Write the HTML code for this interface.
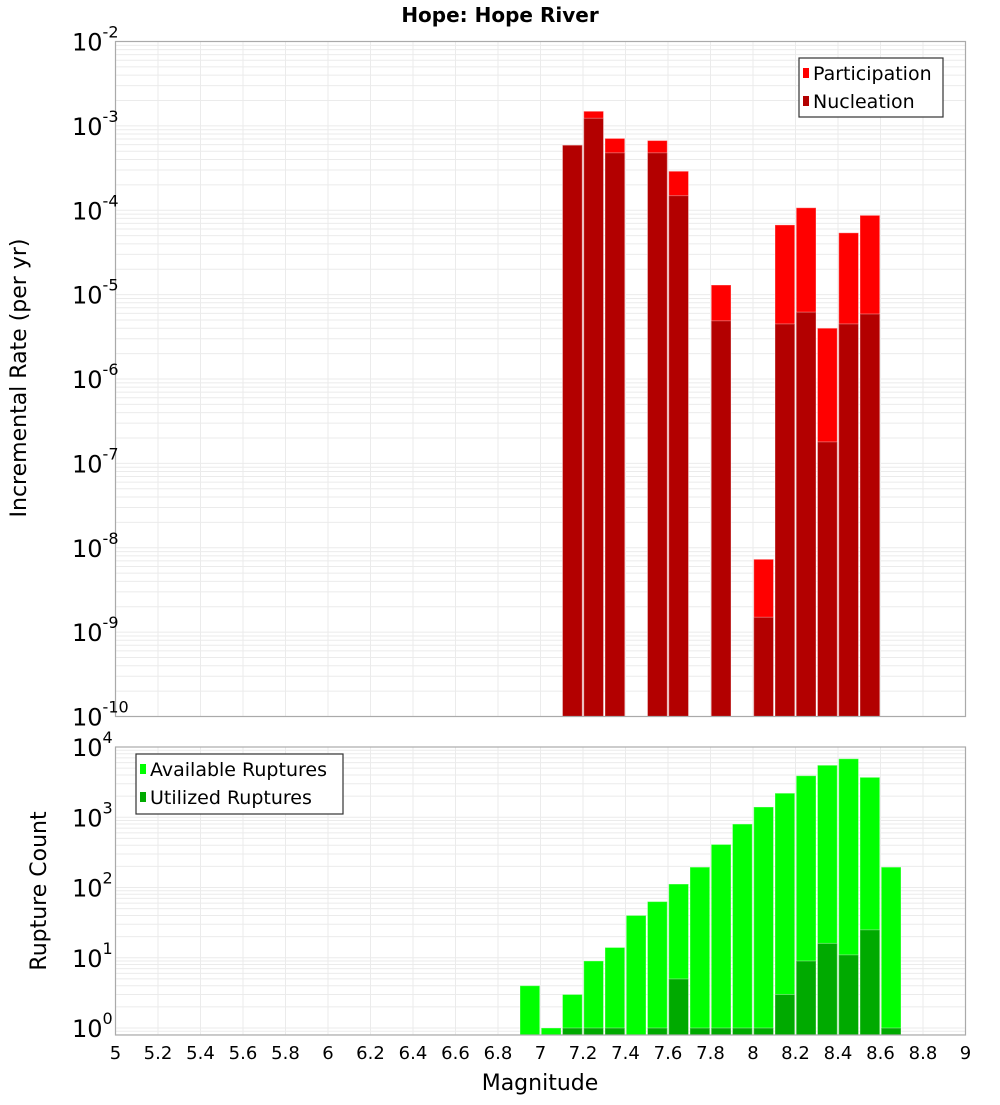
<!DOCTYPE html>
<html><head><meta charset="utf-8"><style>
body{margin:0;background:#fff;font-family:"Liberation Sans","DejaVu Sans",sans-serif}
svg text{font-family:"DejaVu Sans","Liberation Sans",sans-serif}
</style></head><body>
<svg id="c" width="1000" height="1100" xmlns="http://www.w3.org/2000/svg">
<text x="500" y="22" text-anchor="middle" font-size="20" font-weight="bold">Hope: Hope River</text>
<text transform="translate(26,378) rotate(-90)" text-anchor="middle" font-size="22">Incremental Rate (per yr)</text>
<text transform="translate(46,891) rotate(-90)" text-anchor="middle" font-size="22">Rupture Count</text>
<text x="540" y="1090" text-anchor="middle" font-size="22">Magnitude</text>
<g id="top"></g><g id="bot"></g>
</svg>
<script>
const mags = [6.95,7.05,7.15,7.25,7.35,7.45,7.55,7.65,7.75,7.85,7.95,8.05,8.15,8.25,8.35,8.45,8.55,8.65];
const participation = [0,0,5.9e-4,1.49e-3,7.1e-4,0,6.7e-4,2.9e-4,0,1.3e-5,0,7.3e-9,6.7e-5,1.07e-4,4.0e-6,5.4e-5,8.7e-5,0];
const nucleation = [0,0,5.9e-4,1.23e-3,4.8e-4,0,4.8e-4,1.49e-4,0,4.9e-6,0,1.5e-9,4.5e-6,6.2e-6,1.8e-7,4.5e-6,5.9e-6,0];
const available = [4,1,3,9,14,40,63,112,195,410,800,1400,2200,3900,5500,6800,3700,195];
const utilized = [0,0,1,1,1,0,1,5,1,1,1,1,3,9,16,11,25,1];
const xTicks = ["5","5.2","5.4","5.6","5.8","6","6.2","6.4","6.6","6.8","7","7.2","7.4","7.6","7.8","8","8.2","8.4","8.6","8.8","9"];
const topExp = [-2,-3,-4,-5,-6,-7,-8,-9,-10];
const botExp = [4,3,2,1,0];

const NS="http://www.w3.org/2000/svg";
const L=115.5,R=965.5;
const xs=m=>L+(m-5)/4*(R-L);
const T1=41.5,B1=716.5;
const y1=v=>T1+(-2-Math.log10(v))*(B1-T1)/8;
const T2=747,P0=1028,B2=1035;
const y2=v=>P0-Math.log10(v)*(P0-T2)/4;
function mk(tag,at,parent){const e=document.createElementNS(NS,tag);for(const k in at)e.setAttribute(k,at[k]);parent.appendChild(e);return e;}
const gt=document.getElementById('top'),gb=document.getElementById('bot');

function grid(g,top,bot,ymap,eLo,eHi){
  for(let e=eLo;e<eHi;e++)for(let k=1;k<10;k++){const yy=ymap(k*Math.pow(10,e));if(yy<top||yy>bot)continue;
    const ln=mk('line',{x1:L,x2:R,y1:yy,y2:yy,stroke:'#ebebeb','stroke-width':1},g);
    }
  xTicks.forEach(t=>{const xx=xs(parseFloat(t));const ln=mk('line',{x1:xx,x2:xx,y1:top,y2:bot,stroke:'#ebebeb','stroke-width':1},g);
    });
}
grid(gt,T1,B1,y1,-10,-2);
grid(gb,T2,B2,y2,-1,4);
const bw=(R-L)/40;
function bar(g,m,v,ymap,bot,fill,name){if(!v)return;const yy=ymap(v);
  const r=mk('rect',{x:xs(m)-bw/2+0.75,y:yy,width:bw-1.5,height:bot-yy,fill:fill,stroke:'rgba(255,255,255,0.35)','stroke-width':1},g);
  }
mags.forEach((m,i)=>{bar(gt,m,participation[i],y1,B1,'#ff0000','participation-bar');bar(gt,m,nucleation[i],y1,B1,'#b30000','nucleation-bar');
  bar(gb,m,available[i],y2,B2,'#00ff00','available-bar');bar(gb,m,utilized[i],y2,B2,'#00aa00','utilized-bar');});
[[T1,B1],[T2,B2]].forEach(([a,b],i)=>{const r=mk('rect',{x:L,y:a,width:R-L,height:b-a,fill:'none',stroke:'#aaa','stroke-width':1.2},i?gb:gt);
  });
function ylab(g,e,yy,name){const t=mk('text',{x:106,y:yy+9,'text-anchor':'end','font-size':24},g);
  
  t.textContent='10';const s=document.createElementNS(NS,'tspan');s.setAttribute('dy','-13');s.setAttribute('font-size','16');s.textContent=String(e);t.appendChild(s);
  t.setAttribute('x',72);t.setAttribute('text-anchor','start');}
topExp.forEach(e=>ylab(gt,e,y1(Math.pow(10,e)),'top-y-tick-label'));
botExp.forEach(e=>ylab(gb,e,y2(Math.pow(10,e)),'bottom-y-tick-label'));
xTicks.forEach(t=>{const e=mk('text',{x:xs(parseFloat(t)),y:1059,'text-anchor':'middle','font-size':18},gb);
  e.textContent=t;});
function legend(g,x,y,w,h,items,name){const lg=mk('g',{},g);
  mk('rect',{x:x,y:y,width:w,height:h,fill:'#fff',stroke:'#333','stroke-width':1.2},lg);
  items.forEach(([c,l],i)=>{const yy=y+15+i*28;mk('rect',{x:x+4,y:yy-5,width:6,height:10,fill:c},lg);
    const t=mk('text',{x:x+14,y:yy+7,'font-size':19},lg);t.textContent=l;});}
legend(gt,799,58,144,59,[['#ff0000','Participation'],['#b30000','Nucleation']],'top-legend');
legend(gb,136,754,207,60,[['#00ff00','Available Ruptures'],['#00aa00','Utilized Ruptures']],'bottom-legend');
</script>
</body></html>
